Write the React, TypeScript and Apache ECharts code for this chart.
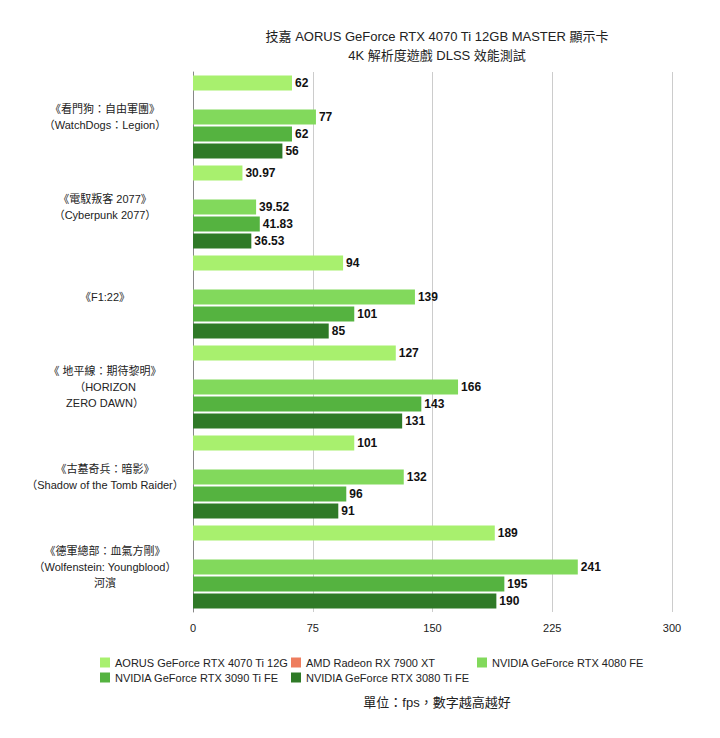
import { useEffect, useRef } from "react";
import * as echarts from "echarts";

const categories = [
  "《看門狗：自由軍團》\n（WatchDogs：Legion）",
  "《電馭叛客 2077》\n（Cyberpunk 2077）",
  "《F1:22》",
  "《 地平線：期待黎明》\n（HORIZON\nZERO DAWN）",
  "《古墓奇兵：暗影》\n（Shadow of the Tomb Raider）",
  "《德軍總部：血氣方剛》\n（Wolfenstein: Youngblood）\n河濱",
];
const seriesNames = [
  "AORUS GeForce RTX 4070 Ti 12G",
  "AMD Radeon RX 7900 XT",
  "NVIDIA GeForce RTX 4080 FE",
  "NVIDIA GeForce RTX 3090 Ti FE",
  "NVIDIA GeForce RTX 3080 Ti FE",
];
const colors = ["#a8f06e", "#ee7d5e", "#82d95c", "#55b340", "#2f7a27"];
const aorus = [62, 30.97, 94, 127, 101, 189];
const amd: (number | null)[] = [null, null, null, null, null, null];
const rtx4080 = [77, 39.52, 139, 166, 132, 241];
const rtx3090ti = [62, 41.83, 101, 143, 96, 195];
const rtx3080ti = [56, 36.53, 85, 131, 91, 190];
const values = [aorus, amd, rtx4080, rtx3090ti, rtx3080ti];

const legendPos = [
  { left: 95, top: 652 },
  { left: 286, top: 652 },
  { left: 472, top: 652 },
  { left: 95, top: 667 },
  { left: 286, top: 667 },
];

const App = () => {
  const chartRef = useRef(null);

  useEffect(() => {
    const chart = echarts.init(chartRef.current, null, { renderer: "svg" });
    const font = "Helvetica, Arial, 'Noto Sans CJK TC', sans-serif";
    chart.setOption({
      animation: false,
      textStyle: { fontFamily: font },
      title: [
        {
          text: "技嘉 AORUS GeForce RTX 4070 Ti 12GB MASTER 顯示卡\n4K 解析度遊戲 DLSS 效能測試",
          left: 432,
          top: 22,
          textAlign: "center",
          textStyle: { fontSize: 13, fontWeight: "normal", color: "#222", lineHeight: 19 },
        },
        {
          text: "單位：fps，數字越高越好",
          left: 432,
          top: 691,
          textAlign: "center",
          textStyle: { fontSize: 13, fontWeight: "normal", color: "#222" },
        },
      ],
      legend: seriesNames.map((n, i) => ({
        data: [n],
        left: legendPos[i].left,
        top: legendPos[i].top,
        itemWidth: 10,
        itemHeight: 10,
        icon: "rect",
        textStyle: { fontSize: 11, color: "#222" },
      })),
      grid: { left: 193, right: 48, top: 72, bottom: 126 },
      xAxis: {
        type: "value",
        min: 0,
        max: 300,
        interval: 75,
        axisLabel: { fontSize: 11, color: "#222", margin: 10 },
        splitLine: { lineStyle: { color: "#ccc" } },
        axisLine: { show: false },
      },
      yAxis: {
        type: "category",
        inverse: true,
        data: categories,
        axisTick: { show: false },
        axisLine: { lineStyle: { color: "#888" } },
        axisLabel: {
          fontSize: 11,
          color: "#222",
          align: "center",
          margin: 88,
          lineHeight: 16,
        },
      },
      series: seriesNames.map((n, i) => ({
        name: n,
        type: "bar",
        data: values[i],
        itemStyle: { color: colors[i] },
        barWidth: 15,
        barGap: "13%",
        barCategoryGap: "5%",
        label: {
          show: true,
          position: "right",
          fontSize: 12,
          fontWeight: "bold",
          color: "#111",
          distance: 3,
        },
      })),
    });
    return () => {
      chart.dispose();
    };
  }, []);

  return <div ref={chartRef} style={{ width: 720, height: 738, margin: -8 }} />;
};

export default App;
